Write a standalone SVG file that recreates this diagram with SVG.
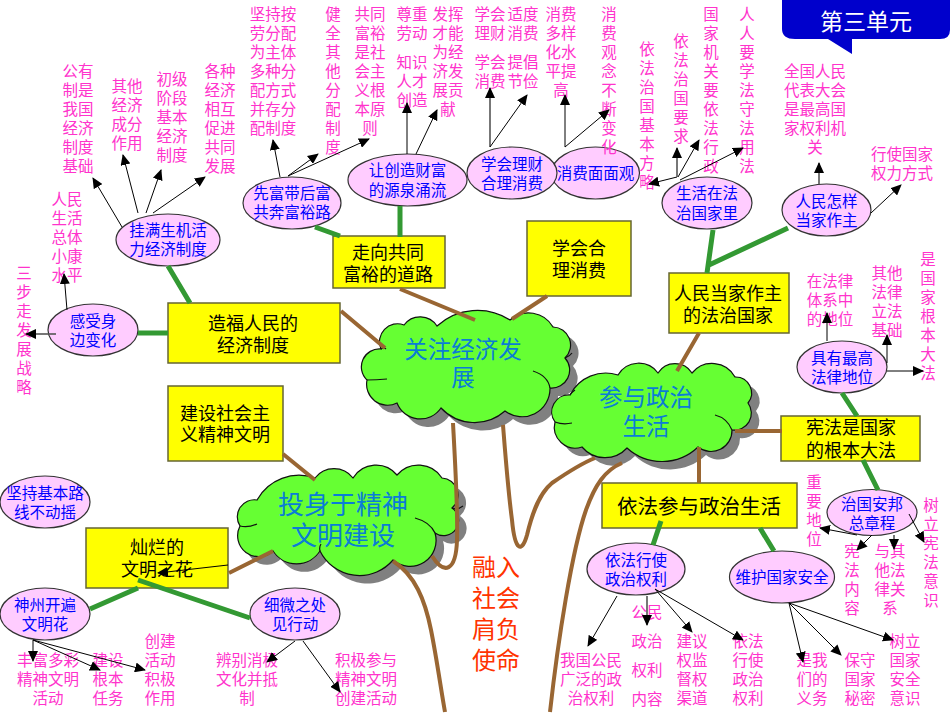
<svg xmlns="http://www.w3.org/2000/svg" width="950" height="713" viewBox="0 0 950 713">
<style>
text{font-family:"Noto Sans CJK SC","Liberation Sans",sans-serif;text-anchor:middle}
.p{font-size:15.5px;fill:#ff33cc}
.e{font-size:15.5px;fill:#0000ff}
.r{font-size:18px;fill:#000}
.c{fill:#0a7dd6}
ellipse{fill:#ffccff;stroke:#333;stroke-width:1.2}
.box{fill:#ffff00;stroke:#666633;stroke-width:1.5}
.cl{fill:#66ff33;stroke:#111;stroke-width:1.2}
.sh{fill:#808080}
.curl{fill:none;stroke:#111;stroke-width:1.2}
.b{fill:none;stroke:#996633;stroke-width:4}
.g{fill:none;stroke:#339933;stroke-width:5}
.a{stroke:#000;stroke-width:1;fill:none;marker-end:url(#ah)}
.a2{stroke:#555;stroke-width:1.6;fill:none;marker-end:url(#ah)}
</style>
<defs>
<marker id="ah" markerUnits="userSpaceOnUse" markerWidth="11" markerHeight="10" refX="10" refY="5" orient="auto"><path d="M0,0L11,5L0,10Z" fill="#000"/></marker>
<path id="c1p" d="M381,349A18 18 0 0 1 404,325A20 20 0 0 1 437,326A60 60 0 0 1 510,320A28 28 0 0 1 553,327A18 18 0 0 1 565,358A18 18 0 0 1 550,388A28 28 0 0 1 505,411A46 46 0 0 1 441,408A25 25 0 0 1 397,403A21 21 0 0 1 367,380A18 18 0 0 1 381,349Z"/>
<path id="c2p" d="M570,395A40 40 0 0 1 618,375A24 24 0 0 1 658,373A20 20 0 0 1 692,373A26 26 0 0 1 735,377A16 16 0 0 1 748,403A17 17 0 0 1 732,430A21 21 0 0 1 698,447A52 52 0 0 1 627,448A30 30 0 0 1 582,447A21 21 0 0 1 555,422A17 17 0 0 1 570,395Z"/>
<path id="c3p" d="M257,500A48 48 0 0 1 315,478A24 24 0 0 1 353,478A27 27 0 0 1 397,475A28 28 0 0 1 442,478A17 17 0 0 1 452,508A15 15 0 0 1 435,533A26 26 0 0 1 393,560A44 44 0 0 1 320,551A28 28 0 0 1 273,551A21 21 0 0 1 240,526A17 17 0 0 1 257,500Z"/>
</defs>

<g id="unit-label"><path d="M782,0V29Q782,39 795,39H828L852,54V39H940Q950,39 950,30V0Z" fill="#0000cc"/><text x="866" y="30" font-size="23" fill="#fff">第三单元</text></g>

<g id="cloud-economy"><use href="#c1p" class="sh" x="8" y="8"/><use href="#c1p" class="cl"/><path class="curl" d="M381,349Q384,347 386,349M367,380Q376,380 387,379M533,371Q548,376 550,388M565,358Q570,356 572,353"/><text class="c" x="463" y="358" font-size="23.5">关注经济发</text><text class="c" x="463" y="386" font-size="23.5">展</text></g>
<g id="cloud-politics"><use href="#c2p" class="sh" x="8" y="8"/><use href="#c2p" class="cl"/><path class="curl" d="M555,422Q563,425 572,423M732,430Q727,418 715,415M570,395Q572,392 575,390"/><text class="c" x="646" y="406" font-size="23.5">参与政治</text><text class="c" x="646" y="435" font-size="23.5">生活</text></g>
<g id="cloud-culture"><use href="#c3p" class="sh" x="8" y="8"/><use href="#c3p" class="cl"/><path class="curl" d="M240,526Q248,528 257,524M435,533Q430,522 415,518M452,508Q458,510 463,506M320,551Q319,547 321,544"/><text class="c" x="343" y="514" font-size="26">投身于精神</text><text class="c" x="343" y="545" font-size="26">文明建设</text></g>

<g id="box-wealth"><rect class="box" x="333" y="236" width="112" height="52"/><text class="r" x="388" y="259">走向共同</text><text class="r" x="388" y="281">富裕的道路</text></g>
<g id="box-consume"><rect class="box" x="527" y="221" width="104" height="75"/><text class="r" x="579" y="255">学会合</text><text class="r" x="579" y="277">理消费</text></g>
<g id="box-people"><rect class="box" x="669" y="273" width="120" height="60"/><text class="r" x="728" y="300">人民当家作主</text><text class="r" x="728" y="322">的法治国家</text></g>
<g id="box-system"><rect class="box" x="168" y="303" width="172" height="60"/><text class="r" x="253" y="330">造福人民的</text><text class="r" x="253" y="352">经济制度</text></g>
<g id="box-spirit"><rect class="box" x="168" y="386" width="115" height="75"/><text class="r" x="225" y="420">建设社会主</text><text class="r" x="225" y="441">义精神文明</text></g>
<g id="box-constitution"><rect class="box" x="781" y="416" width="139" height="45"/><text class="r" x="851" y="434">宪法是国家</text><text class="r" x="851" y="457">的根本大法</text></g>
<g id="box-participate"><rect class="box" x="602" y="483" width="195" height="45"/><text x="699" y="514" font-size="20.5">依法参与政治生活</text></g>
<g id="box-flower"><rect class="box" x="86" y="528" width="142" height="60"/><text class="r" x="157" y="554">灿烂的</text><text class="r" x="157" y="576">文明之花</text></g>

<g id="n-vitality"><ellipse cx="168" cy="240" rx="52" ry="26"/><text class="e" x="168" y="236">挂满生机活</text><text class="e" x="168" y="255">力经济制度</text></g>
<g id="n-rich"><ellipse cx="292" cy="203" rx="49" ry="26"/><text class="e" x="292" y="199">先富带后富</text><text class="e" x="292" y="218">共奔富裕路</text></g>
<g id="n-create"><ellipse cx="407.500" cy="180" rx="59.500" ry="26"/><text class="e" x="407.500" y="176">让创造财富</text><text class="e" x="407.500" y="196">的源泉涌流</text></g>
<g id="n-view"><ellipse cx="595.500" cy="173" rx="44" ry="26"/><text class="e" x="595.500" y="179">消费面面观</text></g>
<g id="n-finance"><ellipse cx="512" cy="173" rx="45" ry="26"/><text class="e" x="512" y="170">学会理财</text><text class="e" x="512" y="189">合理消费</text></g>
<g id="n-lawlife"><ellipse cx="707" cy="203" rx="45" ry="26"/><text class="e" x="707" y="199">生活在法</text><text class="e" x="707" y="219">治国家里</text></g>
<g id="n-master"><ellipse cx="826.500" cy="210" rx="44.500" ry="26"/><text class="e" x="826.500" y="207">人民怎样</text><text class="e" x="826.500" y="226">当家作主</text></g>
<g id="n-change"><ellipse cx="93" cy="330" rx="45" ry="26"/><text class="e" x="93" y="327">感受身</text><text class="e" x="93" y="346">边变化</text></g>
<g id="n-status"><ellipse cx="842" cy="367" rx="45" ry="26"/><text class="e" x="842" y="364">具有最高</text><text class="e" x="842" y="383">法律地位</text></g>
<g id="n-line"><ellipse cx="45" cy="502" rx="45" ry="26"/><text class="e" x="45" y="499">坚持基本路</text><text class="e" x="45" y="518">线不动摇</text></g>
<g id="n-china"><ellipse cx="45" cy="614" rx="45" ry="26"/><text class="e" x="45" y="611">神州开遍</text><text class="e" x="45" y="630">文明花</text></g>
<g id="n-detail"><ellipse cx="295" cy="614" rx="45" ry="26"/><text class="e" x="295" y="611">细微之处</text><text class="e" x="295" y="630">见行动</text></g>
<g id="n-rights"><ellipse cx="636" cy="569" rx="49" ry="26"/><text class="e" x="636" y="566">依法行使</text><text class="e" x="636" y="585">政治权利</text></g>
<g id="n-security"><ellipse cx="782" cy="577" rx="52.500" ry="26"/><text class="e" x="782" y="583">维护国家安全</text></g>
<g id="n-charter"><ellipse cx="872" cy="512.500" rx="45" ry="23"/><text class="e" x="872" y="510">治国安邦</text><text class="e" x="872" y="529">总章程</text></g>

<g id="leaves">
<text class="p" x="78" y="77"><tspan x="78">公有</tspan><tspan x="78" dy="19">制是</tspan><tspan x="78" dy="19">我国</tspan><tspan x="78" dy="19">经济</tspan><tspan x="78" dy="19">制度</tspan><tspan x="78" dy="19">基础</tspan></text>
<text class="p" x="127" y="92"><tspan x="127">其他</tspan><tspan x="127" dy="19">经济</tspan><tspan x="127" dy="19">成分</tspan><tspan x="127" dy="19">作用</tspan></text>
<text class="p" x="172" y="85"><tspan x="172">初级</tspan><tspan x="172" dy="19">阶段</tspan><tspan x="172" dy="19">基本</tspan><tspan x="172" dy="19">经济</tspan><tspan x="172" dy="19">制度</tspan></text>
<text class="p" x="220" y="77"><tspan x="220">各种</tspan><tspan x="220" dy="19">经济</tspan><tspan x="220" dy="19">相互</tspan><tspan x="220" dy="19">促进</tspan><tspan x="220" dy="19">共同</tspan><tspan x="220" dy="19">发展</tspan></text>
<text class="p" x="273" y="20"><tspan x="273">坚持按</tspan><tspan x="273" dy="19">劳分配</tspan><tspan x="273" dy="19">为主体</tspan><tspan x="273" dy="19">多种分</tspan><tspan x="273" dy="19">配方式</tspan><tspan x="273" dy="19">并存分</tspan><tspan x="273" dy="19">配制度</tspan></text>
<text class="p" x="333" y="20"><tspan x="333">健</tspan><tspan x="333" dy="19">全</tspan><tspan x="333" dy="19">其</tspan><tspan x="333" dy="19">他</tspan><tspan x="333" dy="19">分</tspan><tspan x="333" dy="19">配</tspan><tspan x="333" dy="19">制</tspan><tspan x="333" dy="19">度</tspan></text>
<text class="p" x="370" y="20"><tspan x="370">共同</tspan><tspan x="370" dy="19">富裕</tspan><tspan x="370" dy="19">是社</tspan><tspan x="370" dy="19">会主</tspan><tspan x="370" dy="19">义根</tspan><tspan x="370" dy="19">本原</tspan><tspan x="370" dy="19">则</tspan></text>
<text class="p" x="412" y="20"><tspan x="412">尊重</tspan><tspan x="412" dy="19">劳动</tspan></text>
<text class="p" x="412" y="68"><tspan x="412">知识</tspan><tspan x="412" dy="19">人才</tspan><tspan x="412" dy="19">创造</tspan></text>
<text class="p" x="448" y="20"><tspan x="448">发挥</tspan><tspan x="448" dy="19">才能</tspan><tspan x="448" dy="19">为经</tspan><tspan x="448" dy="19">济发</tspan><tspan x="448" dy="19">展贡</tspan><tspan x="448" dy="19">献</tspan></text>
<text class="p" x="490" y="20"><tspan x="490">学会</tspan><tspan x="490" dy="19">理财</tspan></text>
<text class="p" x="490" y="68"><tspan x="490">学会</tspan><tspan x="490" dy="19">消费</tspan></text>
<text class="p" x="523" y="20"><tspan x="523">适度</tspan><tspan x="523" dy="19">消费</tspan></text>
<text class="p" x="523" y="68"><tspan x="523">提倡</tspan><tspan x="523" dy="19">节俭</tspan></text>
<text class="p" x="561" y="20"><tspan x="561">消费</tspan><tspan x="561" dy="19">多样</tspan><tspan x="561" dy="19">化水</tspan><tspan x="561" dy="19">平提</tspan><tspan x="561" dy="19">高</tspan></text>
<text class="p" x="609" y="20"><tspan x="609">消</tspan><tspan x="609" dy="19">费</tspan><tspan x="609" dy="19">观</tspan><tspan x="609" dy="19">念</tspan><tspan x="609" dy="19">不</tspan><tspan x="609" dy="19">断</tspan><tspan x="609" dy="19">变</tspan><tspan x="609" dy="19">化</tspan></text>
<text class="p" x="647" y="55"><tspan x="647">依</tspan><tspan x="647" dy="19">法</tspan><tspan x="647" dy="19">治</tspan><tspan x="647" dy="19">国</tspan><tspan x="647" dy="19">基</tspan><tspan x="647" dy="19">本</tspan><tspan x="647" dy="19">方</tspan><tspan x="647" dy="19">略</tspan></text>
<text class="p" x="681" y="47"><tspan x="681">依</tspan><tspan x="681" dy="19">法</tspan><tspan x="681" dy="19">治</tspan><tspan x="681" dy="19">国</tspan><tspan x="681" dy="19">要</tspan><tspan x="681" dy="19">求</tspan></text>
<text class="p" x="711" y="20"><tspan x="711">国</tspan><tspan x="711" dy="19">家</tspan><tspan x="711" dy="19">机</tspan><tspan x="711" dy="19">关</tspan><tspan x="711" dy="19">要</tspan><tspan x="711" dy="19">依</tspan><tspan x="711" dy="19">法</tspan><tspan x="711" dy="19">行</tspan><tspan x="711" dy="19">政</tspan></text>
<text class="p" x="747" y="20"><tspan x="747">人</tspan><tspan x="747" dy="19">人</tspan><tspan x="747" dy="19">要</tspan><tspan x="747" dy="19">学</tspan><tspan x="747" dy="19">法</tspan><tspan x="747" dy="19">守</tspan><tspan x="747" dy="19">法</tspan><tspan x="747" dy="19">用</tspan><tspan x="747" dy="19">法</tspan></text>
<text class="p" x="815" y="77"><tspan x="815">全国人民</tspan><tspan x="815" dy="19">代表大会</tspan><tspan x="815" dy="19">是最高国</tspan><tspan x="815" dy="19">家权利机</tspan><tspan x="815" dy="19">关</tspan></text>
<text class="p" x="902" y="160"><tspan x="902">行使国家</tspan><tspan x="902" dy="19">权力方式</tspan></text>
<text class="p" x="67" y="205"><tspan x="67">人民</tspan><tspan x="67" dy="19">生活</tspan><tspan x="67" dy="19">总体</tspan><tspan x="67" dy="19">小康</tspan><tspan x="67" dy="19">水平</tspan></text>
<text class="p" x="24" y="279"><tspan x="24">三</tspan><tspan x="24" dy="19">步</tspan><tspan x="24" dy="19">走</tspan><tspan x="24" dy="19">发</tspan><tspan x="24" dy="19">展</tspan><tspan x="24" dy="19">战</tspan><tspan x="24" dy="19">略</tspan></text>
<text class="p" x="830" y="287"><tspan x="830">在法律</tspan><tspan x="830" dy="19">体系中</tspan><tspan x="830" dy="19">的地位</tspan></text>
<text class="p" x="887" y="279"><tspan x="887">其他</tspan><tspan x="887" dy="19">法律</tspan><tspan x="887" dy="19">立法</tspan><tspan x="887" dy="19">基础</tspan></text>
<text class="p" x="928" y="265"><tspan x="928">是</tspan><tspan x="928" dy="19">国</tspan><tspan x="928" dy="19">家</tspan><tspan x="928" dy="19">根</tspan><tspan x="928" dy="19">本</tspan><tspan x="928" dy="19">大</tspan><tspan x="928" dy="19">法</tspan></text>
<text class="p" x="814" y="488"><tspan x="814">重</tspan><tspan x="814" dy="19">要</tspan><tspan x="814" dy="19">地</tspan><tspan x="814" dy="19">位</tspan></text>
<text class="p" x="852" y="557"><tspan x="852">宪</tspan><tspan x="852" dy="19">法</tspan><tspan x="852" dy="19">内</tspan><tspan x="852" dy="19">容</tspan></text>
<text class="p" x="890" y="557"><tspan x="890">与其</tspan><tspan x="890" dy="19">他法</tspan><tspan x="890" dy="19">律关</tspan><tspan x="890" dy="19">系</tspan></text>
<text class="p" x="931" y="511"><tspan x="931">树</tspan><tspan x="931" dy="19">立</tspan><tspan x="931" dy="19">宪</tspan><tspan x="931" dy="19">法</tspan><tspan x="931" dy="19">意</tspan><tspan x="931" dy="19">识</tspan></text>
<text class="p" x="647" y="618">公民</text><text class="p" x="647" y="647">政治</text><text class="p" x="647" y="676">权利</text><text class="p" x="647" y="705">内容</text>
<text class="p" x="591" y="666"><tspan x="591">我国公民</tspan><tspan x="591" dy="19">广泛的政</tspan><tspan x="591" dy="19">治权利</tspan></text>
<text class="p" x="692" y="647"><tspan x="692">建议</tspan><tspan x="692" dy="19">权监</tspan><tspan x="692" dy="19">督权</tspan><tspan x="692" dy="19">渠道</tspan></text>
<text class="p" x="748" y="647"><tspan x="748">依法</tspan><tspan x="748" dy="19">行使</tspan><tspan x="748" dy="19">政治</tspan><tspan x="748" dy="19">权利</tspan></text>
<text class="p" x="812" y="666"><tspan x="812">是我</tspan><tspan x="812" dy="19">们的</tspan><tspan x="812" dy="19">义务</tspan></text>
<text class="p" x="860" y="666"><tspan x="860">保守</tspan><tspan x="860" dy="19">国家</tspan><tspan x="860" dy="19">秘密</tspan></text>
<text class="p" x="905" y="647"><tspan x="905">树立</tspan><tspan x="905" dy="19">国家</tspan><tspan x="905" dy="19">安全</tspan><tspan x="905" dy="19">意识</tspan></text>
<text class="p" x="48" y="666"><tspan x="48">丰富多彩</tspan><tspan x="48" dy="19">精神文明</tspan><tspan x="48" dy="19">活动</tspan></text>
<text class="p" x="108" y="666"><tspan x="108">建设</tspan><tspan x="108" dy="19">根本</tspan><tspan x="108" dy="19">任务</tspan></text>
<text class="p" x="160" y="647"><tspan x="160">创建</tspan><tspan x="160" dy="19">活动</tspan><tspan x="160" dy="19">积极</tspan><tspan x="160" dy="19">作用</tspan></text>
<text class="p" x="247" y="666"><tspan x="247">辨别消极</tspan><tspan x="247" dy="19">文化并抵</tspan><tspan x="247" dy="19">制</tspan></text>
<text class="p" x="366" y="666"><tspan x="366">积极参与</tspan><tspan x="366" dy="19">精神文明</tspan><tspan x="366" dy="19">创建活动</tspan></text>
</g>
<g id="theme"><text font-size="24" fill="#ff3300" x="496" y="576"><tspan x="496">融入</tspan><tspan x="496" dy="31">社会</tspan><tspan x="496" dy="31">肩负</tspan><tspan x="496" dy="31">使命</tspan></text></g>

<g id="connectors">
<path class="b" d="M400,289L475,320M341,311L385,348M547,296L512,319M699,333L677,371M782,431H735M699,447V483M283,454L315,480M229,573L273,551"/>
<path class="b" d="M503,425C505,450 508,490 512,520C515,552 522,553 527,535C533,510 540,493 552,483C568,472 580,464 595,458"/>
<path class="b" d="M622,463C605,470 595,485 586,510C572,550 558,640 550,712"/>
<path class="b" d="M453,423C455,460 458,510 457,540C456,572 444,575 432,556"/>
<path class="b" d="M393,561C415,575 425,600 431,630C437,660 441,690 445,712"/>
<path class="g" d="M168,266L190,303M138,333H168M315,227L340,236M400,206V237M713,230L707,273M709,265L788,228M842,393L857,416M863,460L878,490M661,521L653,545M760,528L774,551M138,588L90,609M138,580L250,618"/>
<path class="a" d="M122,227L93,178"/><path class="a" d="M138,213L123,155"/><path class="a" d="M146,213L161,170"/><path class="a" d="M153,213L205,177"/>
<path class="a" d="M280,177L273,140"/><path class="a" d="M288,176L318,154"/><path class="a" d="M288,176L369,139"/>
<path class="a" d="M407,154V103"/><path class="a" d="M416,154L437,110"/>
<path class="a2" d="M490,147V88"/><path class="a" d="M490,147L527,95"/>
<path class="a" d="M565,147V95"/><path class="a" d="M565,147L609,110"/>
<path class="a" d="M677,177L649,184"/><path class="a2" d="M677,177V148"/><path class="a" d="M678,177L699,140"/><path class="a" d="M680,180L743,148"/>
<path class="a2" d="M819,184V163"/><path class="a" d="M871,213L901,185"/>
<path class="a" d="M67,310L64,274"/><path class="a2" d="M56,334H26"/>
<path class="a" d="M827,341V313"/><path class="a" d="M887,363V335"/><path class="a" d="M887,371H923"/>
<path class="a" d="M228,565L158,573"/>
<path class="a" d="M33,640V661"/><path class="a" d="M33,640L100,670"/><path class="a" d="M33,640L145,670"/>
<path class="a" d="M295,641L267,662"/><path class="a" d="M303,641L340,692"/>
<path class="a" d="M617,596L588,646"/><path class="a2" d="M647,596V625"/><path class="a" d="M655,589L692,632"/><path class="a" d="M655,589L743,640"/>
<path class="a" d="M789,603L803,662"/><path class="a" d="M789,603L841,655"/><path class="a" d="M789,603L893,640"/>
<path class="a" d="M857,535L820,528"/><path class="a" d="M872,535L857,550"/><path class="a2" d="M894,535V549"/><path class="a" d="M909,514L924,542"/>
</g>
</svg>
